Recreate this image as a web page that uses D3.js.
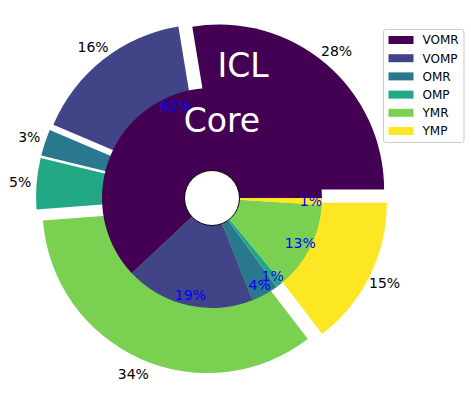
<!DOCTYPE html>
<html>
<head>
<meta charset="utf-8">
<script src="https://cdn.jsdelivr.net/npm/d3@7"></script>
<style>
  body { margin: 0; background: #fff; }
  text { font-family: "DejaVu Sans", sans-serif; }
</style>
</head>
<body>
<svg id="chart" width="471" height="399"></svg>
<script>
const categories = ["VOMR", "VOMP", "OMR", "OMP", "YMR", "YMP"];
const outerValues = [27.6, 16.0, 2.6, 5.0, 34.2, 14.6];
const innerValues = [62, 19, 4, 1, 13, 1];

const width = 471, height = 399;
const cx = 212, cy = 198;
// one data unit = inner pie radius
const unit = d3.scaleLinear().domain([0, 1]).range([0, 110]);
const outerR = unit(1.5), innerR = unit(1), holeR = unit(0.25), explode = unit(0.1);

const color = d3.scaleOrdinal()
  .domain(categories)
  .range(categories.map((c, i) => d3.interpolateViridis(i / (categories.length - 1))));

const svg = d3.select("#chart");
const g = svg.append("g").attr("transform", `translate(${cx},${cy})`);

// counter-clockwise from 3 o'clock, like matplotlib
const pie = d3.pie().sort(null).startAngle(Math.PI / 2).endAngle(Math.PI / 2 - 2 * Math.PI);
const outerArcs = pie(outerValues);
const innerArcs = pie(innerValues);
const total = d3.sum(outerValues);

const dir = d => {
  const m = (d.startAngle + d.endAngle) / 2;
  return [Math.sin(m), -Math.cos(m)];
};

const outerArc = d3.arc().innerRadius(0).outerRadius(outerR);
const innerArc = d3.arc().innerRadius(0).outerRadius(innerR);

// outer exploded ring
g.selectAll(".outer")
  .data(outerArcs)
  .enter().append("path")
  .attr("class", "outer")
  .attr("transform", d => { const [ux, uy] = dir(d); return `translate(${ux * explode},${uy * explode})`; })
  .attr("d", outerArc)
  .attr("fill", (d, i) => color(categories[i]));

// inner pie
g.selectAll(".inner")
  .data(innerArcs)
  .enter().append("path")
  .attr("class", "inner")
  .attr("d", innerArc)
  .attr("fill", (d, i) => color(categories[i]));

// hole
g.append("circle")
  .attr("r", holeR)
  .attr("fill", "#fff")
  .attr("stroke", "#000")
  .attr("stroke-width", 1);

// outer labels
g.selectAll(".outerLabel")
  .data(outerArcs)
  .enter().append("text")
  .attr("x", d => dir(d)[0] * (explode + outerR * 1.1))
  .attr("y", d => dir(d)[1] * (explode + outerR * 1.1))
  .attr("dy", "0.36em")
  .attr("text-anchor", "middle")
  .attr("font-size", "14px")
  .attr("fill", "#000")
  .text(d => `${Math.round(d.value / total * 100)}%`);

// inner labels
g.selectAll(".innerLabel")
  .data(innerArcs)
  .enter().append("text")
  .attr("x", d => dir(d)[0] * innerR * 0.9)
  .attr("y", d => dir(d)[1] * innerR * 0.9)
  .attr("dy", "0.36em")
  .attr("text-anchor", "middle")
  .attr("font-size", "14px")
  .attr("fill", "blue")
  .text(d => `${Math.round(d.value / d3.sum(innerValues) * 100)}%`);

// title words
svg.append("text")
  .attr("x", 243).attr("y", 77)
  .attr("text-anchor", "middle")
  .attr("font-size", "33px")
  .attr("fill", "#fff")
  .text("ICL");

svg.append("text")
  .attr("x", 222).attr("y", 132)
  .attr("text-anchor", "middle")
  .attr("font-size", "33px")
  .attr("fill", "#fff")
  .text("Core");

// legend
const legend = svg.append("g").attr("transform", "translate(383.5,29.5)");
legend.append("rect")
  .attr("width", 80.5).attr("height", 113)
  .attr("rx", 2.5)
  .attr("fill", "#fff").attr("fill-opacity", 0.8)
  .attr("stroke", "#ccc");

const rows = legend.selectAll(".row")
  .data(categories)
  .enter().append("g")
  .attr("transform", (d, i) => `translate(0,${10.5 + i * 18.2})`);

rows.append("rect")
  .attr("x", 5).attr("y", -4)
  .attr("width", 25).attr("height", 8)
  .attr("fill", d => color(d));

rows.append("text")
  .attr("x", 39).attr("y", 0)
  .attr("dy", "0.36em")
  .attr("font-size", "12px")
  .attr("fill", "#000")
  .text(d => d);
</script>
</body>
</html>
